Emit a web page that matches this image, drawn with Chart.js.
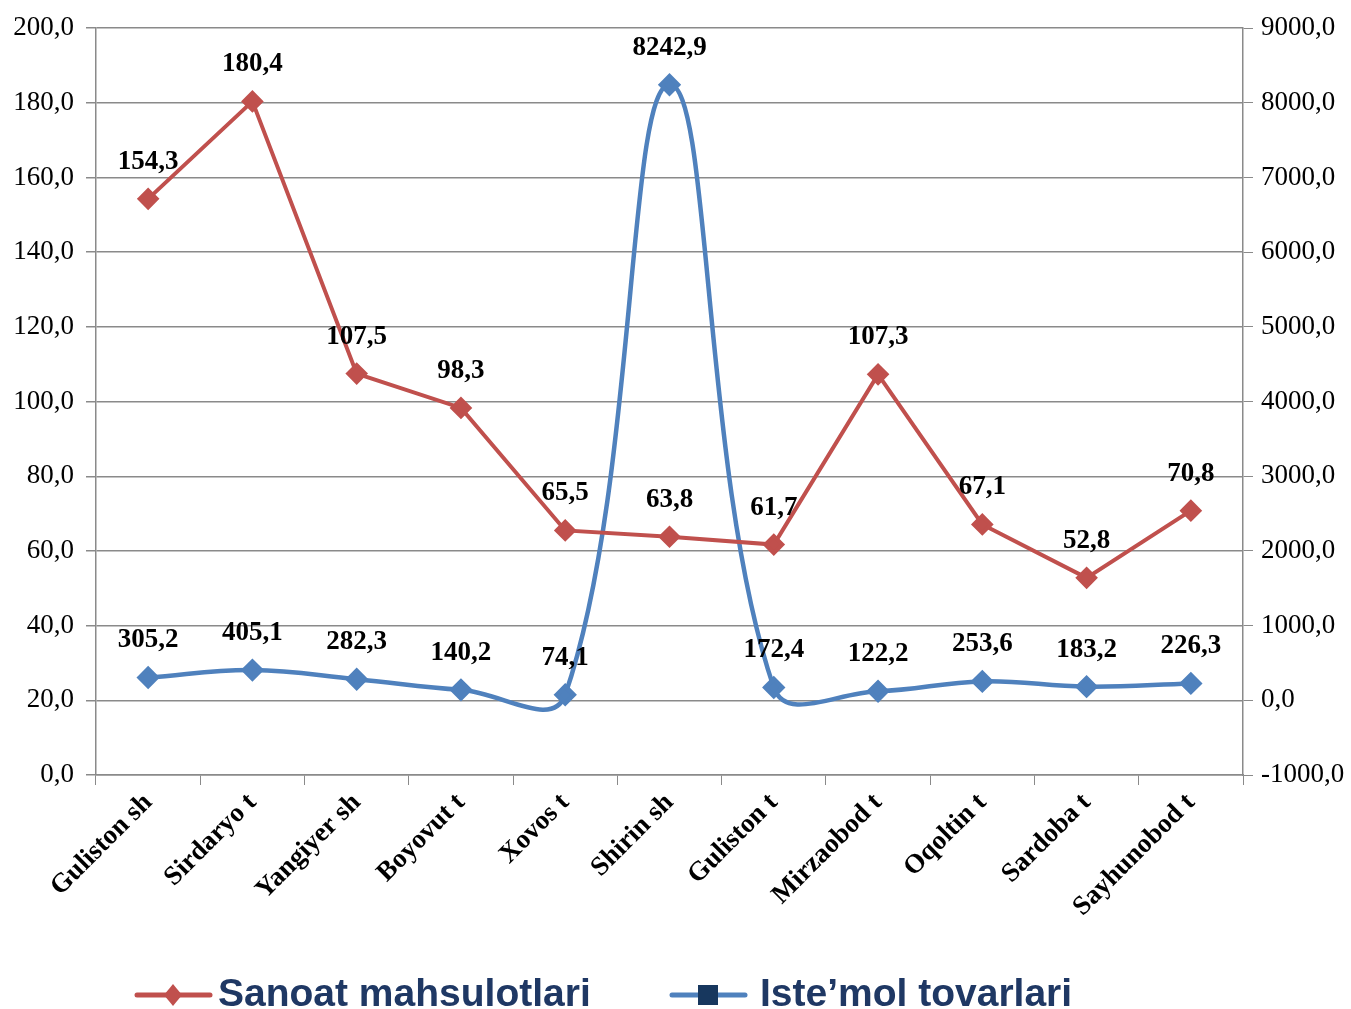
<!DOCTYPE html>
<html>
<head>
<meta charset="utf-8">
<script src="https://cdn.jsdelivr.net/npm/chart.js@4/dist/chart.umd.min.js"></script>
<style>
html,body{margin:0;padding:0;background:#fff;}
#wrap{width:1351px;height:1009px;}
</style>
</head>
<body>
<div id="wrap"><canvas id="c" width="1351" height="1009"></canvas></div>
<script>
const categories = ["Guliston sh","Sirdaryo t","Yangiyer sh","Boyovut t","Xovos t","Shirin sh","Guliston t","Mirzaobod t","Oqoltin t","Sardoba t","Sayhunobod t"];
const sanoatValues = [154.3,180.4,107.5,98.3,65.5,63.8,61.7,107.3,67.1,52.8,70.8];
const istemolValues = [305.2,405.1,282.3,140.2,74.1,8242.9,172.4,122.2,253.6,183.2,226.3];
const seriesNames = ["Sanoat mahsulotlari","Iste\u2019mol tovarlari"];
const leftTicks = {min:0,max:200,step:20};
const rightTicks = {min:-1000,max:9000,step:1000};

const RED = '#C0504D', BLUE = '#4F81BD', NAVY = '#1F3864', GRID = '#8a8a8a';
const SERIF = "'Liberation Serif','Times New Roman',serif";
const fmt = v => v.toFixed(1).replace('.', ',');

const dataLabels = {
  id:'dataLabels',
  afterDatasetsDraw(chart){
    const ctx = chart.ctx;
    ctx.save();
    ctx.font = "bold 27px " + SERIF;
    ctx.fillStyle = '#000';
    ctx.textAlign = 'center';
    ctx.textBaseline = 'middle';
    chart.data.datasets.forEach((ds,i)=>{
      const meta = chart.getDatasetMeta(i);
      meta.data.forEach((pt,j)=>{
        ctx.fillText(fmt(ds.data[j]), pt.x, pt.y - 37);
      });
    });
    ctx.restore();
  }
};

const customLegend = {
  id:'customLegend',
  afterDraw(chart){
    const ctx = chart.ctx;
    ctx.save();
    const y = 995;
    const items = [
      {x:137, tx:218, name:seriesNames[0], color:RED, marker:'diamond', mcolor:RED},
      {x:672, tx:760, name:seriesNames[1], color:BLUE, marker:'square', mcolor:'#17375E'}
    ];
    ctx.font = "bold 39px 'Liberation Sans', Arial, sans-serif";
    ctx.textBaseline = 'middle';
    items.forEach(it=>{
      ctx.strokeStyle = it.color;
      ctx.lineWidth = 5;
      ctx.lineCap = 'round';
      ctx.beginPath(); ctx.moveTo(it.x, y); ctx.lineTo(it.x+73, y); ctx.stroke();
      ctx.fillStyle = it.mcolor;
      const cx = it.x + 36;
      if (it.marker === 'diamond'){
        ctx.beginPath(); ctx.moveTo(cx, y-11); ctx.lineTo(cx+9, y); ctx.lineTo(cx, y+11); ctx.lineTo(cx-9, y); ctx.closePath(); ctx.fill();
      } else {
        ctx.fillRect(cx-10, y-10, 20, 20);
      }
      ctx.fillStyle = NAVY;
      ctx.textAlign = 'left';
      ctx.fillText(it.name, it.tx, y);
    });
    ctx.restore();
  }
};

new Chart(document.getElementById('c'), {
  type:'line',
  data:{
    labels:categories,
    datasets:[
      {label:seriesNames[0], data:sanoatValues, yAxisID:'y', borderColor:RED, backgroundColor:RED, borderWidth:4,
       pointStyle:'rectRot', pointRadius:8.5, pointBackgroundColor:RED, pointBorderColor:RED, tension:0},
      {label:seriesNames[1], data:istemolValues, yAxisID:'y2', borderColor:BLUE, backgroundColor:BLUE, borderWidth:4.5,
       pointStyle:'rectRot', pointRadius:8.5, pointBackgroundColor:BLUE, pointBorderColor:BLUE, tension:0.4}
    ]
  },
  options:{
    responsive:false,
    animation:false,
    devicePixelRatio:1,
    layout:{padding:{top:26,left:0,right:0,bottom:0}},
    plugins:{legend:{display:false}, tooltip:{enabled:false}},
    scales:{
      x:{
        offset:true,
        grid:{offset:true, drawOnChartArea:false, drawTicks:true, tickLength:10, color:GRID},
        border:{color:GRID, width:1.5},
        ticks:{minRotation:45, maxRotation:45, color:'#000', font:{family:SERIF, size:27, weight:'bold'}, padding:2},
        afterFit(s){ s.height = 234; }
      },
      y:{
        position:'left', min:leftTicks.min, max:leftTicks.max,
        ticks:{stepSize:leftTicks.step, color:'#000', font:{family:SERIF, size:27}, padding:12, callback:v=>fmt(v)},
        grid:{color:GRID, lineWidth:1.5, tickLength:10},
        border:{color:GRID, width:1.5},
        afterFit(s){ s.width = 96; }
      },
      y2:{
        position:'right', min:rightTicks.min, max:rightTicks.max,
        ticks:{stepSize:rightTicks.step, color:'#000', font:{family:SERIF, size:27}, padding:8, callback:v=>fmt(v)},
        grid:{drawOnChartArea:false, color:GRID, tickLength:10},
        border:{color:GRID, width:1.5},
        afterFit(s){ s.width = 108; }
      }
    }
  },
  plugins:[dataLabels, customLegend]
});
</script>
</body>
</html>
